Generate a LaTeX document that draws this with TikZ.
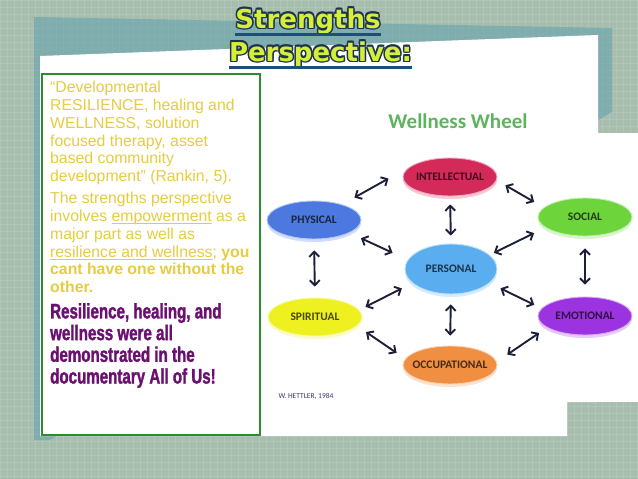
\documentclass[tikz,border=0pt]{standalone}
\usepackage{fontspec}
\setmainfont{Liberation Sans}
\newfontfamily\calibrifont{Carlito}
\newfontfamily\titlefont{DejaVu Sans}
\newfontfamily\heavyfont[FakeStretch=0.72,FakeBold=1.5]{Liberation Sans}
\usetikzlibrary{shapes.geometric,arrows.meta}

\definecolor{bgcol}{HTML}{A7BEAE}
\definecolor{tealcol}{HTML}{6FA6AE}
\definecolor{boxgreen}{HTML}{2E8B2E}
\definecolor{bodyyellow}{HTML}{E6CC40}
\definecolor{bodypurple}{HTML}{6A1070}
\definecolor{titlefill}{HTML}{D4EE3A}
\definecolor{titleedge}{HTML}{1E3350}
\definecolor{titleline}{HTML}{1F4E79}
\definecolor{wheelgreen}{HTML}{5DB45D}
\definecolor{arrowink}{HTML}{1B2038}
\definecolor{intelred}{HTML}{D42A5A}
\definecolor{physblue}{HTML}{4C78E0}
\definecolor{socgreen}{HTML}{6DD43C}
\definecolor{persblue}{HTML}{5AAEEF}
\definecolor{spiryellow}{HTML}{EEF020}
\definecolor{emotpurple}{HTML}{9B34E0}
\definecolor{occorange}{HTML}{F08E42}

\newcommand{\wlab}[1]{\makebox[0pt]{#1}}
\newcommand{\undl}[1]{\setbox0\hbox{#1}\rlap{\rule[-2.4pt]{\wd0}{0.8pt}}\box0\relax}

\begin{document}
\begin{tikzpicture}[x=1pt,y=-1pt,
    wheel/.style={ellipse,minimum width=94pt,minimum height=38pt,inner sep=0pt,
      fill=#1,draw=#1!40!white,line width=0.9pt,text=#1!30!black,
      preaction={fill=#1!25!white,transform canvas={yshift=-3pt}},
      font=\calibrifont\bfseries\fontsize{11.5}{12}\selectfont},
    link/.style 2 args={<->,>={Straight Barb[length=5pt,width=10pt]},
      line width=1.9pt,draw=arrowink,shorten <=#1pt,shorten >=#2pt},
    body/.style={anchor=north west,inner sep=0pt,align=left,text=bodyyellow,
      font=\fontsize{15.8}{17.8}\selectfont},
    titletext/.style={anchor=base,inner sep=0pt,text=titlefill,
      font=\titlefont\bfseries\fontsize{26}{26}\selectfont},
    uline/.style={line width=3.5pt,draw=titleline}]
\useasboundingbox (0,0) rectangle (638,479);

% backdrop
\fill[bgcol] (0,0) rectangle (638,479);
\foreach \g in {0,7,...,637}
  \draw[white,opacity=0.12,line width=0.6pt] (\g,0) -- (\g,479);
\foreach \g in {0,7,...,479}
  \draw[white,opacity=0.12,line width=0.6pt] (0,\g) -- (638,\g);
\fill[tealcol,opacity=0.7] (34,17) -- (612,28) -- (612,112) -- (50,440) -- (34,440) -- cycle;

% slide and picture panels
\fill[white] (40,56) -- (598,35) -- (598,402) -- (567,402) -- (567,436) -- (40,436) -- cycle;
\fill[white] (262,133) rectangle (638,402);
\draw[boxgreen,line width=1.5pt,fill=white] (42,74) rectangle (260,435);

% left column text
\draw (50,81) node[body] (quote) {“Developmental\\RESILIENCE, healing and\\WELLNESS, solution\\focused therapy, asset\\based community\\development” (Rankin, 5).};
\draw (50,192) node[body] (claim) {The strengths perspective\\involves \undl{empowerment} as a\\major part as well as\\\undl{resilience and wellness}; \textbf{you}\\\textbf{cant have one without the}\\\textbf{other.}};
\draw (50,303) node[body,text=bodypurple,font=\heavyfont\bfseries\fontsize{21}{21.7}\selectfont] (docu) {Resilience, healing, and\\wellness were all\\demonstrated in the\\documentary All of Us!};

% title with outline
\foreach \dx/\dy [count=\k] in {-1.5/0,1.5/0,0/-1.5,0/1.5,-1.1/-1.1,1.1/-1.1,-1.1/1.1,1.1/1.1}{
  \draw (308,28) node[titletext,text=titleedge,xshift=\dx pt,yshift=\dy pt] (edgeA\k) {Strengths};
  \draw (320.5,61) node[titletext,text=titleedge,xshift=\dx pt,yshift=\dy pt] (edgeB\k) {Perspective:};
}
\draw (308,28) node[titletext] (ttlA) {Strengths};
\draw (320.5,61) node[titletext] (ttlB) {Perspective:};
\draw[uline] ([yshift=-6.5pt]ttlA.base west) -- ([yshift=-6.5pt]ttlA.base east);
\draw[uline] ([yshift=-6.5pt]ttlB.base west) -- ([yshift=-6.5pt]ttlB.base east);

% wellness wheel
\draw (458,121) node[text=wheelgreen,font=\calibrifont\bfseries\fontsize{21}{21}\selectfont] (wtitle) {Wellness Wheel};
\draw (450,177) node[wheel=intelred] (intel) {\wlab{INTELLECTUAL}};
\draw (314,220) node[wheel=physblue] (phys) {\wlab{PHYSICAL}};
\draw (585,217) node[wheel=socgreen] (soc) {\wlab{SOCIAL}};
\draw (451,269) node[wheel=persblue,minimum width=92pt,minimum height=50pt] (pers) {\wlab{PERSONAL}};
\draw (315,317) node[wheel=spiryellow] (spir) {\wlab{SPIRITUAL}};
\draw (585,316) node[wheel=emotpurple] (emot) {\wlab{EMOTIONAL}};
\draw (450,365) node[wheel=occorange] (occ) {\wlab{OCCUPATIONAL}};
\draw (306,396) node[text=titleline!70!violet,font=\calibrifont\fontsize{7.5}{8}\selectfont] (credit) {W. HETTLER, 1984};

\draw[link={14}{25}] (phys.29) -- (intel.165);
\draw[link={10}{11}] (intel.-4) -- (soc.167);
\draw[link={8}{8}] (intel.south) -- (pers.north);
\draw[link={12.6}{16.7}] (phys.-20) -- (pers.168);
\draw[link={12.5}{4.7}] (soc.195) -- (pers.20);
\draw[link={11}{11}] (phys.south) -- (spir.north);
\draw[link={12}{12}] (soc.south) -- (emot.north);
\draw[link={7}{11.7}] (spir.9) -- (pers.200);
\draw[link={12}{8}] (pers.-20) -- (emot.170);
\draw[link={10}{10}] (pers.south) -- (occ.north);
\draw[link={10.8}{10.3}] (spir.-12) -- (occ.172);
\draw[link={9.5}{12.7}] (emot.197) -- (occ.4);
\end{tikzpicture}
\end{document}
